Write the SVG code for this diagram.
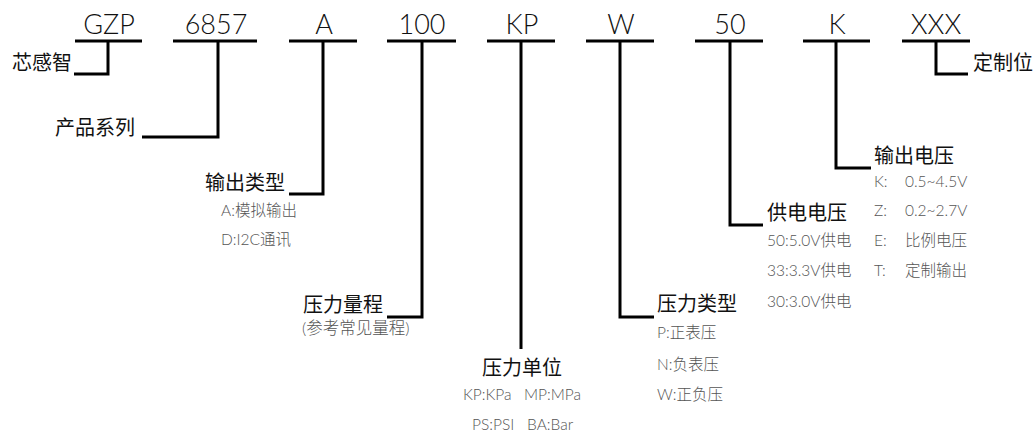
<svg xmlns="http://www.w3.org/2000/svg" width="1036" height="432" viewBox="0 0 1036 432">
<style>
  text { font-family: "Noto Sans CJK SC", "Noto Sans", sans-serif; }
  .code { font-family: "Lato", "Noto Sans CJK SC", sans-serif; font-size: 27px; font-weight: 300; fill: #111; text-anchor: middle; }
  .lbl { font-size: 20px; font-weight: 400; fill: #111; }
  .sub { font-family: "Lato", "Noto Sans CJK SC", sans-serif; font-size: 15.5px; font-weight: 300; fill: #555; }
  .bar { stroke: #000; stroke-width: 3; fill: none; }
  .conn { stroke: #000; stroke-width: 3; fill: none; stroke-linejoin: miter; }
</style>
<rect width="1036" height="432" fill="#fff"/>

<g id="connectors">
  <path class="conn" d="M108,41 V74 H74"/>
  <path class="conn" d="M218,41 V137 H142"/>
  <path class="conn" d="M323,41 V194 H289"/>
  <path class="conn" d="M422,41 V317 H387"/>
  <path class="conn" d="M521,41 V349"/>
  <path class="conn" d="M620,41 V317 H654"/>
  <path class="conn" d="M730,41 V225 H763"/>
  <path class="conn" d="M836,41 V168 H871"/>
  <path class="conn" d="M936,41 V74 H968"/>
</g>

<g id="node-gzp">
  <text class="code" x="109" y="34">GZP</text>
  <line class="bar" x1="75" y1="41" x2="142" y2="41"/>
  <text class="lbl" x="12" y="70">芯感智</text>
</g>

<g id="node-6857">
  <text class="code" x="216" y="34">6857</text>
  <line class="bar" x1="173" y1="41" x2="257" y2="41"/>
  <text class="lbl" x="55" y="135">产品系列</text>
</g>

<g id="node-a">
  <text class="code" x="324" y="34">A</text>
  <line class="bar" x1="289" y1="41" x2="357" y2="41"/>
  <text class="lbl" x="205" y="190">输出类型</text>
  <text class="sub" x="221" y="216">A:模拟输出</text>
  <text class="sub" x="221" y="245">D:I2C通讯</text>
</g>

<g id="node-100">
  <text class="code" x="422" y="34">100</text>
  <line class="bar" x1="387" y1="41" x2="456" y2="41"/>
  <text class="lbl" x="303" y="312">压力量程</text>
  <text class="sub" x="302" y="334" style="font-size:16.5px">(参考常见量程)</text>
</g>

<g id="node-kp">
  <text class="code" x="522" y="34">KP</text>
  <line class="bar" x1="487" y1="41" x2="555" y2="41"/>
  <text class="lbl" x="522" y="375" text-anchor="middle">压力单位</text>
  <text class="sub" x="463" y="400">KP:KPa</text>
  <text class="sub" x="524" y="400">MP:MPa</text>
  <text class="sub" x="472" y="430">PS:PSI</text>
  <text class="sub" x="527" y="430">BA:Bar</text>
</g>

<g id="node-w">
  <text class="code" x="621" y="34">W</text>
  <line class="bar" x1="586" y1="41" x2="654" y2="41"/>
  <text class="lbl" x="657" y="311">压力类型</text>
  <text class="sub" x="657" y="338">P:正表压</text>
  <text class="sub" x="657" y="370">N:负表压</text>
  <text class="sub" x="657" y="400">W:正负压</text>
</g>

<g id="node-50">
  <text class="code" x="730" y="34">50</text>
  <line class="bar" x1="695" y1="41" x2="763" y2="41"/>
  <text class="lbl" x="767" y="220">供电电压</text>
  <text class="sub" x="767" y="246">50:5.0V供电</text>
  <text class="sub" x="767" y="276">33:3.3V供电</text>
  <text class="sub" x="767" y="307">30:3.0V供电</text>
</g>

<g id="node-k">
  <text class="code" x="837" y="34">K</text>
  <line class="bar" x1="803" y1="41" x2="870" y2="41"/>
  <text class="lbl" x="874" y="163">输出电压</text>
  <text class="sub" x="874" y="187">K:</text>
  <text class="sub" x="905" y="187">0.5~4.5V</text>
  <text class="sub" x="874" y="216">Z:</text>
  <text class="sub" x="905" y="216">0.2~2.7V</text>
  <text class="sub" x="874" y="246">E:</text>
  <text class="sub" x="905" y="246">比例电压</text>
  <text class="sub" x="874" y="276">T:</text>
  <text class="sub" x="905" y="276">定制输出</text>
</g>

<g id="node-xxx">
  <text class="code" x="936" y="34">XXX</text>
  <line class="bar" x1="902" y1="41" x2="970" y2="41"/>
  <text class="lbl" x="973" y="70">定制位</text>
</g>
</svg>
